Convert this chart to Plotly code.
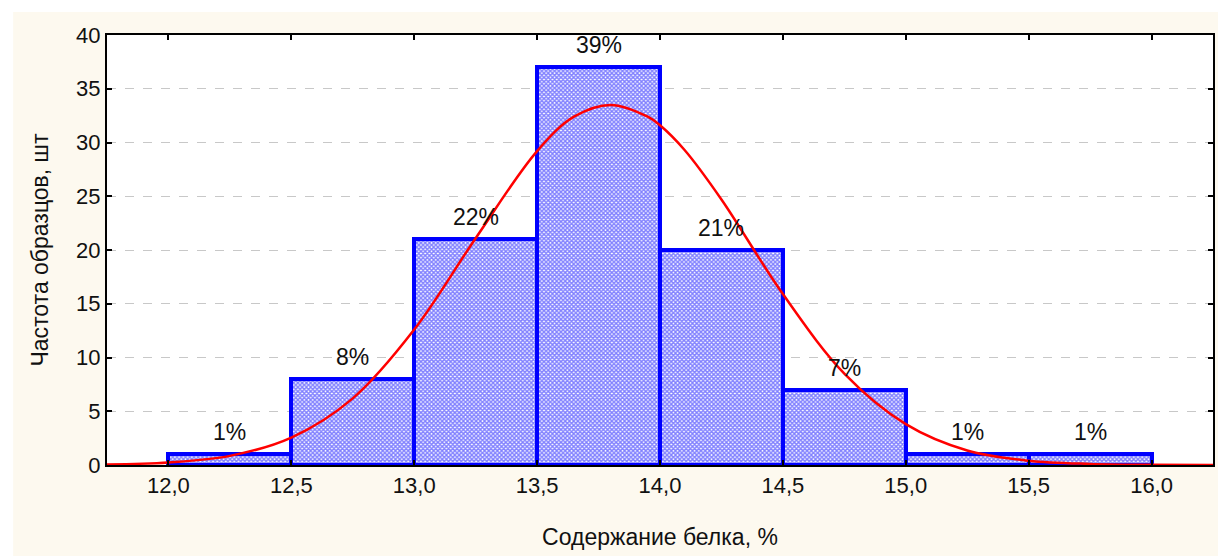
import plotly.graph_objects as go

# Histogram data
bin_centers = [12.25, 12.75, 13.25, 13.75, 14.25, 14.75, 15.25, 15.75]
counts = [1, 8, 21, 37, 20, 7, 1, 1]
pct_labels = ["1%", "8%", "22%", "39%", "21%", "7%", "1%", "1%"]

# Fitted normal curve
curve_x = [11.75, 12.0, 12.25, 12.5, 12.75, 13.0, 13.25, 13.5, 13.65, 13.8,
           13.95, 14.0, 14.1, 14.25, 14.5, 14.75, 15.0, 15.25, 15.5, 15.75, 16.0, 16.25]
curve_y = [0.05, 0.24, 0.85, 2.55, 6.2, 12.6, 21.1, 29.2, 32.4, 33.5,
           32.4, 31.6, 29.3, 24.7, 15.9, 8.5, 3.8, 1.35, 0.4, 0.1, 0.02, 0.0]

x_tickvals = [12.0, 12.5, 13.0, 13.5, 14.0, 14.5, 15.0, 15.5, 16.0]
x_ticktext = ["12,0", "12,5", "13,0", "13,5", "14,0", "14,5", "15,0", "15,5", "16,0"]
y_tickvals = [0, 5, 10, 15, 20, 25, 30, 35, 40]

FONT = "Liberation Sans, Arial, sans-serif"
FS = 22

fig = go.Figure()
fig.add_trace(go.Bar(
    x=bin_centers, y=counts, width=0.5,
    marker=dict(
        color="white",
        line=dict(color="#0000FF", width=4),
        pattern=dict(shape="x", fgcolor="#0000FF", bgcolor="white", size=3, solidity=0.7),
    ),
    showlegend=False,
))
fig.add_trace(go.Scatter(
    x=curve_x, y=curve_y, mode="lines", line=dict(color="#FF0000", width=2.5, shape="spline"),
    showlegend=False,
))

W, H = 1218, 556
L, R, T, B = 107, 3, 35, 91
pw, ph = W - L - R, H - T - B

def px_x(p):
    return (p - L) / pw

def px_y(p):
    return (H - B - p) / ph

annotations = [
    dict(x=xc, y=c, text=t, showarrow=False, xanchor="center", yanchor="bottom",
         yshift=7, font=dict(family=FONT, size=23, color="#111111"))
    for xc, c, t in zip(bin_centers, counts, pct_labels)
]

fig.update_layout(
    width=W, height=H,
    margin=dict(l=L, r=R, t=T, b=B),
    paper_bgcolor="white",
    plot_bgcolor="white",
    font=dict(family=FONT, size=FS, color="#111111"),
    bargap=0,
    annotations=annotations,
    shapes=[
        dict(type="rect", xref="paper", yref="paper", layer="below",
             x0=px_x(13), x1=px_x(W + 5), y0=px_y(H + 5), y1=px_y(12),
             fillcolor="#FDF9EF", line=dict(width=0)),
        dict(type="rect", xref="paper", yref="paper", layer="below",
             x0=0, x1=1, y0=0, y1=1, fillcolor="white", line=dict(width=0)),
    ],
    xaxis=dict(
        range=[11.75, 16.25], tickvals=x_tickvals, ticktext=x_ticktext,
        ticks="inside", ticklen=5, tickwidth=2, tickcolor="black",
        showline=True, linecolor="black", linewidth=2, mirror="ticks",
        showgrid=False, zeroline=False,
        tickfont=dict(size=FS),
        title=dict(text="Содержание белка, %", font=dict(size=23), standoff=31),
    ),
    yaxis=dict(
        range=[0, 40], tickvals=y_tickvals,
        ticks="inside", ticklen=5, tickwidth=2, tickcolor="black",
        showline=True, linecolor="black", linewidth=2, mirror="ticks",
        showgrid=True, gridcolor="#C8C8C8", griddash="dash", gridwidth=1,
        zeroline=False,
        tickfont=dict(size=FS),
        title=dict(text="Частота образцов, шт", font=dict(size=23), standoff=21),
    ),
)

fig.write_html("out.html")
